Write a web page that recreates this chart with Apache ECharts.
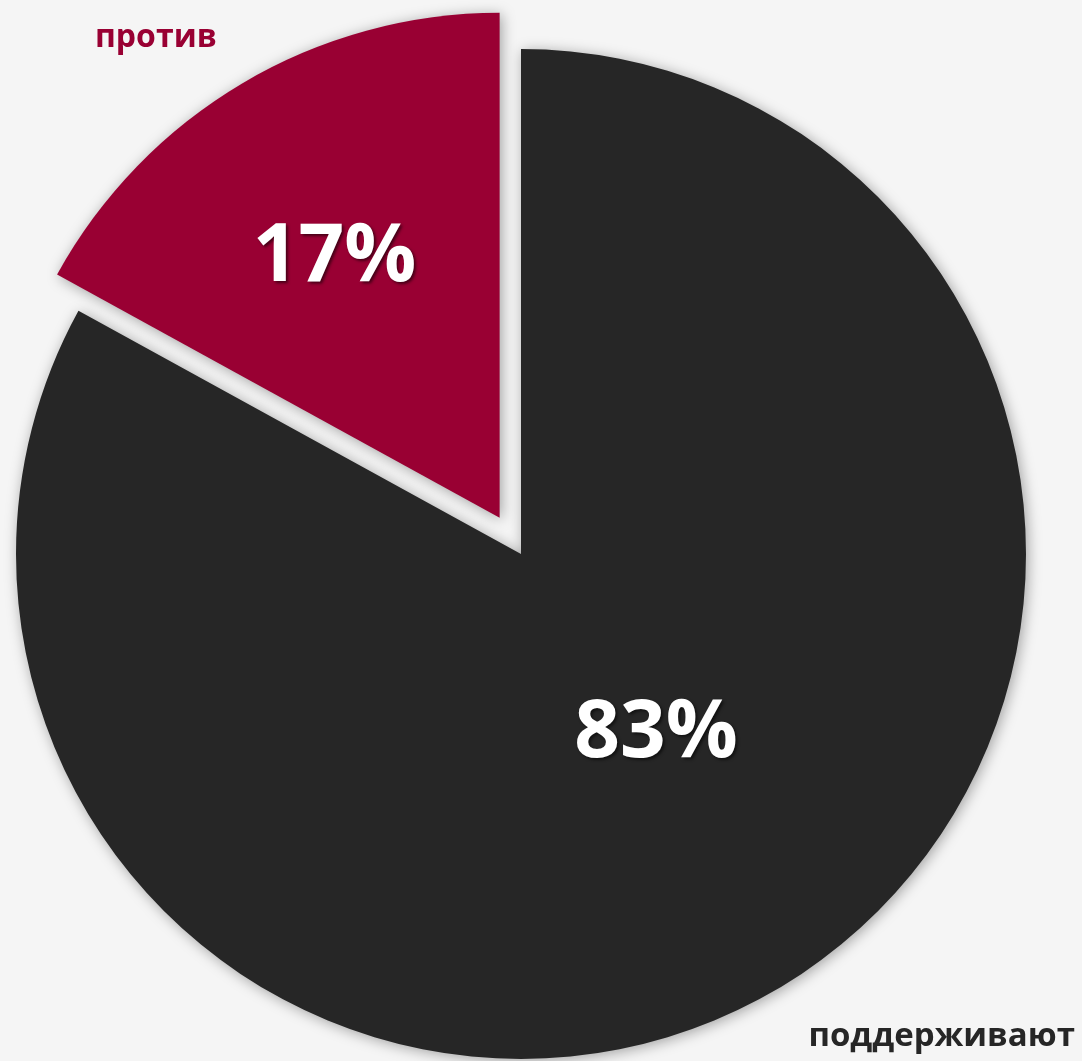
<!DOCTYPE html>
<html>
<head>
<meta charset="utf-8">
<script src="https://cdn.jsdelivr.net/npm/echarts@6/dist/echarts.min.js"></script>
<style>
html, body { margin: 0; padding: 0; background: #f5f5f5; }
#chart { width: 1082px; height: 1061px; }
</style>
</head>
<body>
<div id="chart"></div>
<script>
// data
var names  = ['поддерживают', 'против'];
var values = [83, 17];
var colors = ['#262626', '#990033'];

var chart = echarts.init(document.getElementById('chart'));

// nudge of the percent labels from the default inside spot
var labelShift = [[5, -40], [-35, -40]];

var pieData = [];
for (var i = 0; i < names.length; i++) {
  pieData.push({
    name: names[i],
    value: values[i],
    selected: i === 1,
    itemStyle: { color: colors[i] }
  });
}

var textShadow = {
  textShadowColor: 'rgba(0,0,0,0.55)',
  textShadowBlur: 3,
  textShadowOffsetX: 2,
  textShadowOffsetY: 2
};

var nameShadow = { shadowColor: 'rgba(0,0,0,0.4)', shadowBlur: 3, shadowOffsetX: 2, shadowOffsetY: 2 };

var option = {
  backgroundColor: '#f5f5f5',
  animation: false,
  series: [{
    type: 'pie',
    center: [521, 554],
    radius: 505,
    startAngle: 90,
    clockwise: true,
    selectedMode: 'single',
    selectedOffset: 42,
    emphasis: { disabled: true },
    itemStyle: {
      shadowBlur: 14,
      shadowColor: 'rgba(0,0,0,0.35)',
      shadowOffsetX: 2,
      shadowOffsetY: 2
    },
    label: Object.assign({
      show: true,
      position: 'inside',
      formatter: '{c}%',
      color: '#ffffff',
      fontFamily: 'Open Sans',
      fontWeight: 'bold',
      fontSize: 80
    }, textShadow),
    labelLayout: function (params) {
      var s = labelShift[params.dataIndex];
      return { dx: s[0], dy: s[1] };
    },
    labelLine: { show: false },
    data: pieData
  }],
  graphic: [
    {
      type: 'text', x: 95, y: 38,
      style: Object.assign({
        text: names[1], fill: colors[1],
        font: 'bold 32px "Open Sans"',
        align: 'left', verticalAlign: 'middle'
      }, nameShadow)
    },
    {
      type: 'text', x: 1075, y: 1037,
      style: Object.assign({
        text: names[0], fill: colors[0],
        font: 'bold 33px "Open Sans"',
        align: 'right', verticalAlign: 'middle'
      }, nameShadow)
    }
  ]
};

chart.setOption(option);
</script>
</body>
</html>
